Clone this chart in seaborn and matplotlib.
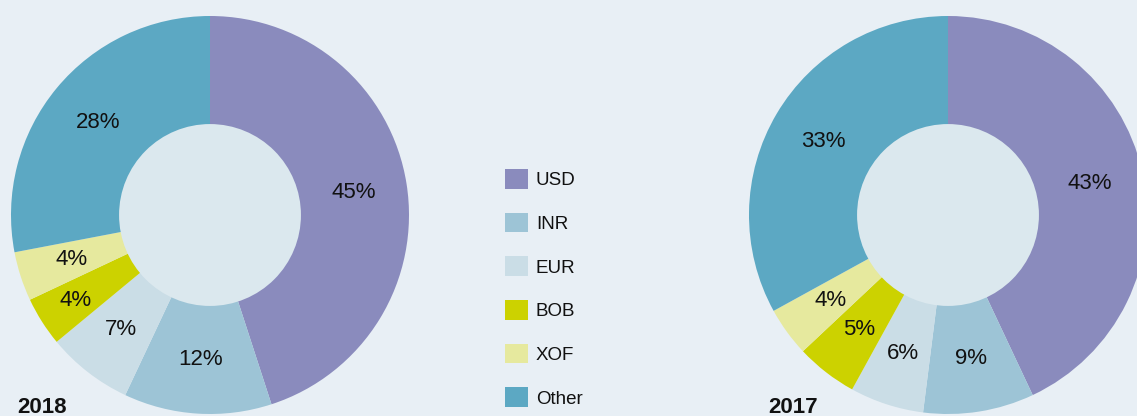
import numpy as np
import seaborn as sns
import matplotlib.pyplot as plt
from matplotlib.patches import Circle

# currency shares of the two years
currencies = ['USD', 'INR', 'EUR', 'BOB', 'XOF', 'Other']
share_2018 = [45, 12, 7, 4, 4, 28]
share_2017 = [43, 9, 6, 5, 4, 33]
colors = ['#8a8bbd', '#9dc4d6', '#cadde6', '#ccd200', '#e6e99e', '#5ca8c3']

bg = '#e8eff5'
hole = '#dbe8ee'

sns.set_theme(style='white')
plt.rcParams['font.family'] = ['Liberation Sans', 'DejaVu Sans']
plt.rcParams['text.color'] = '#111111'

fig = plt.figure(figsize=(11.37, 4.16), dpi=100, facecolor=bg)
W, H = 1137, 416


def donut(ax, values, year, year_x):
    ax.set_facecolor(bg)
    wedges, texts, autotexts = ax.pie(values, colors=sns.color_palette(colors),
                                      startangle=90, counterclock=False,
                                      autopct='%d%%', pctdistance=0.73,
                                      wedgeprops=dict(linewidth=0),
                                      textprops=dict(fontsize=16, color='#111111'))
    ax.add_patch(Circle((0, 0), 0.457, color=hole, zorder=5, linewidth=0))
    ax.set_xlim(-1, 1)
    ax.set_ylim(-1, 1)
    ax.set_aspect('equal')
    ax.axis('off')
    fig.text(year_x / W, 3 / H, year, fontsize=16, fontweight='bold',
             va='baseline', ha='left')
    return wedges, autotexts


ax1 = fig.add_axes([11 / W, 2 / H, 398 / W, 398 / H])
wedges, at1 = donut(ax1, share_2018, '2018', 17)
# the small BOB label sits a bit further out
x, y = at1[3].get_position()
at1[3].set_position((x * 1.1, y * 1.1))

ax2 = fig.add_axes([749 / W, 2 / H, 398 / W, 398 / H])
donut(ax2, share_2017, '2017', 768)

fig.legend(wedges, currencies, loc='upper left',
           bbox_to_anchor=(505 / W, 1 - 169 / H), frameon=False,
           fontsize=13.5, handlelength=1.25, handleheight=1.25,
           handletextpad=0.4, labelspacing=1.25, borderpad=0,
           borderaxespad=0)

fig.savefig('out.png', dpi=100, facecolor=bg)
